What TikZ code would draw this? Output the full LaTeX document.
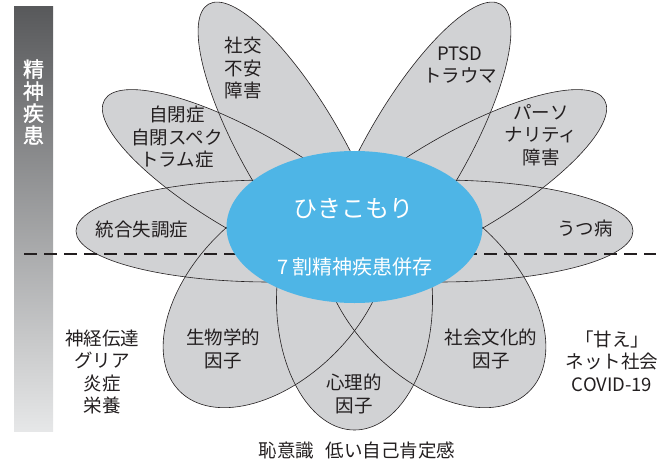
\documentclass[tikz,border=0pt]{standalone}
\usepackage{fontspec}
\newfontfamily\jp{Noto Sans CJK JP}
\newfontfamily\jpbold[FakeBold=1.2]{Noto Sans CJK JP}
\definecolor{petalgray}{RGB}{209,210,212}
\definecolor{hikiblue}{RGB}{78,181,230}
\definecolor{txt}{RGB}{35,31,32}
\definecolor{bartop}{RGB}{88,89,91}
\definecolor{barbot}{RGB}{230,231,232}
\begin{document}
\begin{tikzpicture}[x=1pt,y=-1pt,
  lbl/.style={font=\jp\fontsize{18.5}{22.5}\selectfont, text=txt, align=center, inner sep=0pt},
  wlbl/.style={text=white, align=center, inner sep=0pt},
  dashline/.style={draw=txt, line width=2.6pt, dash pattern=on 13pt off 7pt},
  petalline/.style={draw=txt, line width=0.6pt}]
\useasboundingbox (0,0) rectangle (663,465);
% gradient bar
\shade[top color=bartop, bottom color=barbot] (14,7) rectangle (53,431);
\node[wlbl, font=\jpbold\fontsize{21}{22}\selectfont] (bar) at (33.5,102) {精\\神\\疾\\患};
% petals
\def\petals{293.5/151.4/120/170/50, 415.5/151.4/60/170/50, 251.7/185/150/170/50, 457.3/185/30/170/50, 270/231/0/194/51, 439/231/0/194/51, 275.8/295/45/136/83, 433.2/295/-45/136/83, 354.5/300/90/130/78}
\foreach \cx/\cy/\ang/\ra/\rb in \petals {
  \fill[petalgray, rotate around={\ang:(\cx,\cy)}] (\cx,\cy) ellipse [x radius=\ra pt, y radius=\rb pt];
}
\foreach \cx/\cy/\ang/\ra/\rb in \petals {
  \draw[petalline, rotate around={\ang:(\cx,\cy)}] (\cx,\cy) ellipse [x radius=\ra pt, y radius=\rb pt];
}
% dashed divider
\coordinate (dl) at (24,254);
\coordinate (dr) at (656,254);
\draw[dashline] (dl) -- (dr);
% centre
\fill[hikiblue] (354.5,227) ellipse [x radius=128pt, y radius=76pt];
\node[wlbl, font=\jp\fontsize{24}{28}\selectfont] (hiki) at (353,209) {ひきこもり};
\node[wlbl, font=\jp\fontsize{20}{24}\selectfont] (nana) at (355,267) {7 割精神疾患併存};
% petal labels
\node[lbl] (shakou) at (243,68) {社交\\不安\\障害};
\node[lbl] (jihei) at (177,137) {自閉症\\自閉スペク\\トラム症};
\node[lbl] (togo) at (142,230) {統合失調症};
\node[lbl] (ptsd) at (460,65) {PTSD\\トラウマ};
\node[lbl] (pers) at (541,135) {パーソ\\ナリティ\\障害};
\node[lbl] (utsu) at (585,228) {うつ病};
\node[lbl] (bio) at (223,349) {生物学的\\因子};
\node[lbl] (psy) at (354,394) {心理的\\因子};
\node[lbl] (soc) at (491,349) {社会文化的\\因子};
% outside labels
\node[lbl] (neuro) at (102,372) {神経伝達\\グリア\\炎症\\栄養};
\node[lbl] (amae) at (612,361) {「甘え」\\ネット社会\\COVID-19};
\node[lbl] (shame) at (357,450) {恥意識\hspace{12pt}低い自己肯定感};
\end{tikzpicture}
\end{document}
